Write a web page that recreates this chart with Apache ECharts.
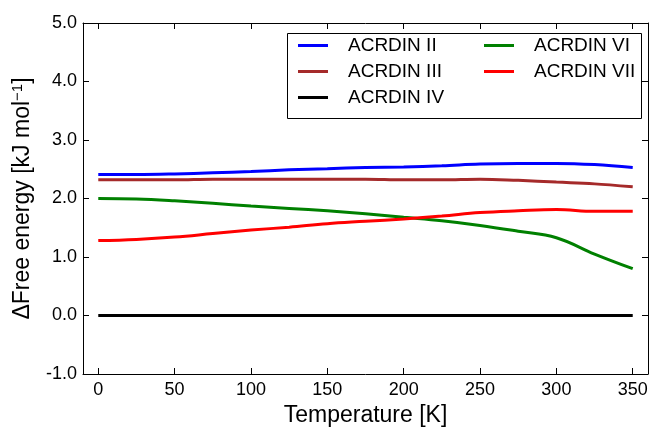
<!DOCTYPE html>
<html>
<head>
<meta charset="utf-8">
<script src="https://cdn.jsdelivr.net/npm/echarts@6/dist/echarts.min.js"></script>
<style>
  html, body { margin: 0; padding: 0; background: #fff; }
  #chart { width: 650px; height: 427px; }
</style>
</head>
<body>
<div id="chart"></div>
<script>
// Temperatures [K] at which the free-energy differences were sampled
const temperatures = [0, 25, 50, 75, 100, 125, 150, 175, 200, 225, 250, 275, 300, 325, 350];

// Free energy relative to ACRDIN IV [kJ/mol]
const acrdinII  = [2.41, 2.41, 2.42, 2.44, 2.46, 2.49, 2.51, 2.53, 2.54, 2.56, 2.59, 2.60, 2.60, 2.58, 2.53];
const acrdinIII = [2.32, 2.32, 2.32, 2.33, 2.33, 2.33, 2.33, 2.33, 2.32, 2.32, 2.33, 2.31, 2.28, 2.25, 2.20];
const acrdinIV  = [0, 0, 0, 0, 0, 0, 0, 0, 0, 0, 0, 0, 0, 0, 0];
const acrdinVI  = [2.00, 1.99, 1.96, 1.92, 1.87, 1.83, 1.79, 1.74, 1.68, 1.62, 1.54, 1.44, 1.33, 1.05, 0.80];
const acrdinVII = [1.28, 1.30, 1.34, 1.40, 1.46, 1.51, 1.57, 1.61, 1.65, 1.70, 1.76, 1.79, 1.81, 1.78, 1.78];

const seriesNames = ['ACRDIN II', 'ACRDIN III', 'ACRDIN IV', 'ACRDIN VI', 'ACRDIN VII'];
const seriesValues = [acrdinII, acrdinIII, acrdinIV, acrdinVI, acrdinVII];
const seriesColors = ['#0000ff', '#a52a2a', '#000000', '#008000', '#ff0000'];

// Tick positions
const xTicks = [0, 50, 100, 150, 200, 250, 300, 350];
const yTickLabels = ['-1.0', '0.0', '1.0', '2.0', '3.0', '4.0', '5.0'];

const FONT = '"Liberation Sans", Arial, Helvetica, sans-serif';
const chart = echarts.init(document.getElementById('chart'), null, { renderer: 'canvas' });

const lineIcon = 'path://M0,0 L30,0 L30,3 L0,3 Z';

const xAxisCommon = {
  type: 'value', min: -10, max: 360,
  axisLine: { show: true, onZero: false, lineStyle: { color: '#000', width: 1 } },
  axisTick: { show: true, inside: true, length: 6, customValues: xTicks, lineStyle: { color: '#000' } },
  splitLine: { show: false }
};
const yAxisCommon = {
  type: 'value', min: -1, max: 5, interval: 1,
  axisLine: { show: true, onZero: false, lineStyle: { color: '#000', width: 1 } },
  axisTick: { show: true, inside: true, length: 6, lineStyle: { color: '#000' } },
  splitLine: { show: false }
};

const legendCommon = {
  orient: 'vertical', top: 36, padding: 0,
  icon: lineIcon, itemWidth: 30, itemHeight: 14, itemGap: 7,
  textStyle: { fontSize: 19, color: '#000', fontFamily: FONT, padding: [0, 0, 0, 15] }
};

chart.setOption({
  animation: false,
  backgroundColor: '#fff',
  textStyle: { fontFamily: FONT },
  grid: { left: 83, right: 2, top: 23, bottom: 53, containLabel: false, outerBoundsMode: 'none' },
  xAxis: [
    Object.assign({}, xAxisCommon, {
      position: 'bottom',
      name: 'Temperature [K]',
      nameLocation: 'middle',
      nameGap: 26,
      nameTextStyle: { fontSize: 23, color: '#000', fontFamily: FONT },
      axisLabel: { show: true, customValues: xTicks, margin: 7, fontSize: 18, color: '#000', fontFamily: FONT,
        formatter: v => String(v) }
    }),
    Object.assign({}, xAxisCommon, { position: 'top', axisLabel: { show: false } })
  ],
  yAxis: [
    Object.assign({}, yAxisCommon, {
      position: 'left',
      name: 'ΔFree energy [kJ mol{sup|−1}]',
      nameLocation: 'middle',
      nameGap: 48,
      nameRotate: 90,
      nameTextStyle: {
        fontSize: 23, color: '#000', fontFamily: FONT,
        rich: { sup: { fontSize: 15, color: '#000', fontFamily: FONT, verticalAlign: 'top', padding: [0, 0, 10, 0] } }
      },
      axisLabel: { show: true, margin: 6, fontSize: 18, color: '#000', fontFamily: FONT,
        formatter: v => yTickLabels[Math.round(v) + 1] }
    }),
    Object.assign({}, yAxisCommon, { position: 'right', axisLabel: { show: false } })
  ],
  legend: [
    Object.assign({}, legendCommon, { data: seriesNames.slice(0, 3), left: 298 }),
    Object.assign({}, legendCommon, { data: seriesNames.slice(3), left: 484 })
  ],
  graphic: [{
    type: 'rect', left: 287, top: 33, z: 5,
    shape: { width: 354, height: 85 },
    style: { fill: 'rgba(0,0,0,0)', stroke: '#000', lineWidth: 1 }
  }],
  series: seriesNames.map((name, i) => ({
    name: name,
    type: 'line',
    xAxisIndex: 0, yAxisIndex: 0,
    smooth: 0.4,
    symbol: 'none',
    lineStyle: { width: 3, color: seriesColors[i] },
    itemStyle: { color: seriesColors[i] },
    data: temperatures.map((t, k) => [t, seriesValues[i][k]])
  }))
});
</script>
</body>
</html>
